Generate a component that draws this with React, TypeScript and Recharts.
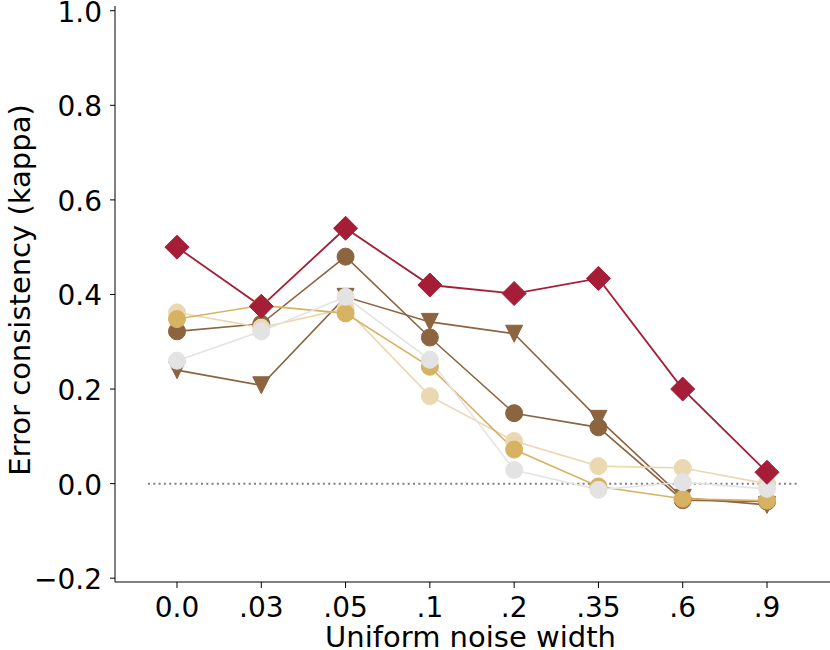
import React from 'react';
import { LineChart, Line, XAxis, YAxis, ReferenceLine } from 'recharts';

// noise widths on the x axis
const noiseWidths = ['0.0', '.03', '.05', '.1', '.2', '.35', '.6', '.9'];

// kappa per series
const crimsonDiamond = [0.5, 0.375, 0.54, 0.42, 0.402, 0.434, 0.2, 0.024];
const brownTriangle = [0.24, 0.208, 0.395, 0.342, 0.317, 0.137, -0.03, -0.045];
const brownCircle = [0.322, 0.338, 0.48, 0.309, 0.149, 0.119, -0.035, -0.038];
const tanCircle = [0.362, 0.33, 0.37, 0.185, 0.09, 0.037, 0.033, 0.0];
const goldCircle = [0.348, 0.377, 0.36, 0.247, 0.072, -0.006, -0.032, -0.036];
const greyCircle = [0.26, 0.322, 0.395, 0.262, 0.029, -0.013, 0.003, -0.011];

const yTicks = [-0.2, 0.0, 0.2, 0.4, 0.6, 0.8, 1.0];

const FONT = '"DejaVu Sans", sans-serif';
const RED = '#a51d37';
const BROWN = '#8c6440';
const GOLD = '#d8b263';
const TAN = '#ebd7b0';
const GREY = '#e3e3e3';

const data = noiseWidths.map((w, i) => ({
  width: w,
  tri: brownTriangle[i],
  brown: brownCircle[i],
  tan: tanCircle[i],
  gold: goldCircle[i],
  grey: greyCircle[i],
  red: crimsonDiamond[i],
}));

const fmtY = (v: number) => (v < 0 ? `\u2212${Math.abs(v).toFixed(1)}` : v.toFixed(1));

const XTick = (props: any) => {
  const { x, y, payload } = props;
  return (
    <text x={x} y={y} textAnchor="middle" dy="0.71em" fontSize={28} fontFamily={FONT} fill="#000">
      {payload.value}
    </text>
  );
};

const YTick = (props: any) => {
  const { x, y, payload } = props;
  return (
    <text x={x} y={y} textAnchor="end" dy="0.39em" fontSize={28} fontFamily={FONT} fill="#000">
      {fmtY(payload.value)}
    </text>
  );
};

const XLabel = (props: any) => {
  const { x, y, width, height } = props.viewBox;
  return (
    <text x={x + width / 2 - 2} y={y + height - 3} textAnchor="middle" fontSize={29} fontFamily={FONT} fill="#000">
      Uniform noise width
    </text>
  );
};

const YLabel = (props: any) => {
  const { y, height } = props.viewBox;
  return (
    <text
      transform={`translate(30,${y + height / 2 - 4}) rotate(-90)`}
      textAnchor="middle"
      fontSize={29}
      fontFamily={FONT}
      fill="#000"
    >
      Error consistency (kappa)
    </text>
  );
};

const diamondDot = (props: any) => {
  const { cx, cy, index } = props;
  const r = 12;
  return (
    <path
      key={`dia-${index}`}
      d={`M${cx},${cy - r}L${cx + r},${cy}L${cx},${cy + r}L${cx - r},${cy}Z`}
      fill={RED}
      stroke={RED}
      strokeWidth={1}
    />
  );
};

const triangleDot = (props: any) => {
  const { cx, cy, index } = props;
  const h = 8.5;
  return (
    <path
      key={`tri-${index}`}
      d={`M${cx - h},${cy - h}L${cx + h},${cy - h}L${cx},${cy + h}Z`}
      fill={BROWN}
      stroke={BROWN}
      strokeWidth={1}
    />
  );
};

// dotted zero line, a little shorter than the axis
const ZeroLine = (p: any) => (
  <line x1={p.x1 + 33} y1={p.y1} x2={p.x2 - 33} y2={p.y2} stroke="#808080" strokeWidth={2} strokeDasharray="2 3.3" />
);

const circle = (c: string) => ({ r: 8.5, fill: c, stroke: c, strokeWidth: 1 });

export default function App() {
  return (
    <div style={{ position: 'absolute', left: 0, top: 0, background: '#fff' }}>
      <LineChart width={830} height={650} data={data} margin={{ top: 6, right: 0, bottom: 0, left: 0 }}>
        <XAxis
          dataKey="width"
          type="category"
          padding={{ left: 62, right: 63 }}
          height={68}
          stroke="#000"
          tickSize={6}
          tickMargin={9}
          tick={<XTick />}
          label={{ value: 'Uniform noise width', content: XLabel }}
        />
        <YAxis
          type="number"
          domain={[-0.208, 1.01]}
          ticks={yTicks}
          allowDataOverflow
          width={115}
          stroke="#000"
          tickSize={5}
          tickMargin={8}
          tick={<YTick />}
          label={{ value: 'Error consistency (kappa)', content: YLabel }}
        />
        <ReferenceLine y={0} shape={ZeroLine} />
        <Line dataKey="tri" stroke={BROWN} strokeWidth={1.6} dot={triangleDot} activeDot={false} isAnimationActive={false} />
        <Line dataKey="brown" stroke={BROWN} strokeWidth={1.6} dot={circle(BROWN)} activeDot={false} isAnimationActive={false} />
        <Line dataKey="tan" stroke={TAN} strokeWidth={1.6} dot={circle(TAN)} activeDot={false} isAnimationActive={false} />
        <Line dataKey="gold" stroke={GOLD} strokeWidth={1.6} dot={circle(GOLD)} activeDot={false} isAnimationActive={false} />
        <Line dataKey="grey" stroke={GREY} strokeWidth={1.6} dot={circle(GREY)} activeDot={false} isAnimationActive={false} />
        <Line dataKey="red" stroke={RED} strokeWidth={1.8} dot={diamondDot} activeDot={false} isAnimationActive={false} />
      </LineChart>
    </div>
  );
}
